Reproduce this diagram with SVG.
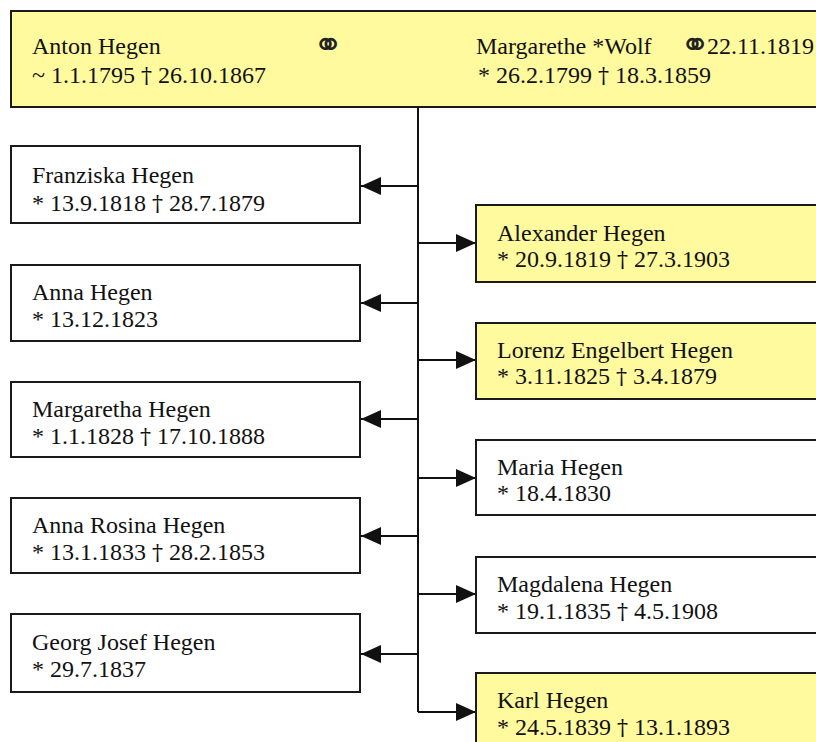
<svg xmlns="http://www.w3.org/2000/svg" width="816" height="742" viewBox="0 0 816 742">
<style>
.box{stroke:#1a1a1a;stroke-width:2}
.y{fill:#FFFA9E}
.w{fill:#ffffff}
text{font-family:"Liberation Serif","Times New Roman",serif;font-size:24px;fill:#111}
.sym{font-family:"DejaVu Sans",sans-serif;font-size:36px;fill:#222}
.d{font-family:"DejaVu Serif",serif;font-size:22px;fill:#111}
.con{fill:none;stroke:#111;stroke-width:2}
</style>
<defs>
<marker id="arr" viewBox="0 0 20 18" refX="20" refY="9" markerWidth="20" markerHeight="18" markerUnits="userSpaceOnUse" orient="auto">
<path d="M0,0 L20,9 L0,18 z" fill="#111"/>
</marker>
</defs>
<rect width="816" height="742" fill="#fff"/>
<g id="connectors">
<path class="con" d="M418,107 V712"/>
<path class="con" d="M418,186 H361" marker-end="url(#arr)"/>
<path class="con" d="M418,303 H361" marker-end="url(#arr)"/>
<path class="con" d="M418,419 H361" marker-end="url(#arr)"/>
<path class="con" d="M418,536 H361" marker-end="url(#arr)"/>
<path class="con" d="M418,654 H361" marker-end="url(#arr)"/>
<path class="con" d="M418,243 H476" marker-end="url(#arr)"/>
<path class="con" d="M418,360 H476" marker-end="url(#arr)"/>
<path class="con" d="M418,478 H476" marker-end="url(#arr)"/>
<path class="con" d="M418,594 H476" marker-end="url(#arr)"/>
<path class="con" d="M418,712 H476" marker-end="url(#arr)"/>
</g>
<g id="parents">
<rect class="box y" x="11" y="11" width="815" height="96"/>
<text x="32" y="54">Anton Hegen</text>
<text class="sym" x="313" y="57">⚭</text>
<text x="32" y="83">~ 1.1.1795 <tspan class="d">†</tspan> 26.10.1867</text>
<text x="476" y="54">Margarethe *Wolf</text>
<text class="sym" x="680" y="57">⚭</text>
<text x="707" y="54">22.11.1819</text>
<text x="478" y="83">* 26.2.1799 <tspan class="d">†</tspan> 18.3.1859</text>
</g>
<g id="franziska">
<rect class="box w" x="11" y="146" width="349" height="77"/>
<text x="32" y="183">Franziska Hegen</text>
<text x="32" y="211">* 13.9.1818 <tspan class="d">†</tspan> 28.7.1879</text>
</g>
<g id="alexander">
<rect class="box y" x="476" y="205" width="350" height="77"/>
<text x="497" y="241">Alexander Hegen</text>
<text x="497" y="267">* 20.9.1819 <tspan class="d">†</tspan> 27.3.1903</text>
</g>
<g id="anna">
<rect class="box w" x="11" y="265" width="349" height="76"/>
<text x="32" y="300">Anna Hegen</text>
<text x="32" y="327">* 13.12.1823</text>
</g>
<g id="lorenz">
<rect class="box y" x="476" y="323" width="350" height="76"/>
<text x="497" y="358">Lorenz Engelbert Hegen</text>
<text x="497" y="384">* 3.11.1825 <tspan class="d">†</tspan> 3.4.1879</text>
</g>
<g id="margaretha">
<rect class="box w" x="11" y="382" width="349" height="75"/>
<text x="32" y="417">Margaretha Hegen</text>
<text x="32" y="444">* 1.1.1828 <tspan class="d">†</tspan> 17.10.1888</text>
</g>
<g id="maria">
<rect class="box w" x="476" y="440" width="350" height="75"/>
<text x="497" y="475">Maria Hegen</text>
<text x="497" y="501">* 18.4.1830</text>
</g>
<g id="annarosina">
<rect class="box w" x="11" y="498" width="349" height="75"/>
<text x="32" y="533">Anna Rosina Hegen</text>
<text x="32" y="560">* 13.1.1833 <tspan class="d">†</tspan> 28.2.1853</text>
</g>
<g id="magdalena">
<rect class="box w" x="476" y="557" width="350" height="76"/>
<text x="497" y="592">Magdalena Hegen</text>
<text x="497" y="619">* 19.1.1835 <tspan class="d">†</tspan> 4.5.1908</text>
</g>
<g id="georg">
<rect class="box w" x="11" y="614" width="349" height="78"/>
<text x="32" y="650">Georg Josef Hegen</text>
<text x="32" y="677">* 29.7.1837</text>
</g>
<g id="karl">
<rect class="box y" x="476" y="673" width="350" height="80"/>
<text x="497" y="708">Karl Hegen</text>
<text x="497" y="735">* 24.5.1839 <tspan class="d">†</tspan> 13.1.1893</text>
</g>
</svg>
